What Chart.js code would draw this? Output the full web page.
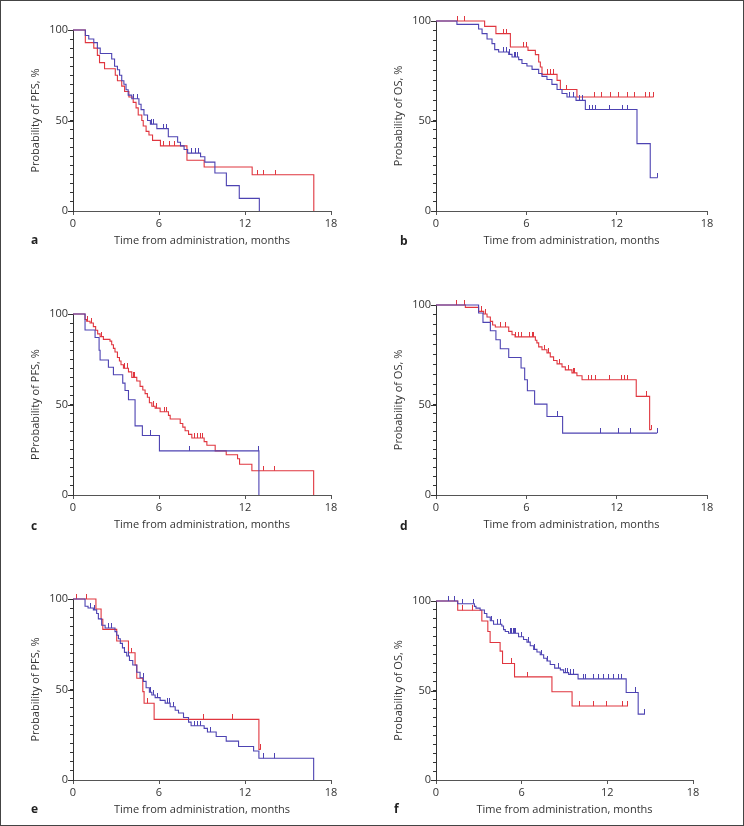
<!DOCTYPE html>
<html>
<head>
<meta charset="utf-8">
<script src="https://cdn.jsdelivr.net/npm/chart.js@4.4.1/dist/chart.umd.min.js"></script>
<style>
  html, body { margin: 0; padding: 0; background: #fff; }
  #fig { position: relative; width: 744px; height: 826px; overflow: hidden; }
  #frame { position: absolute; left: 0; top: 0; width: 744px; height: 826px; box-sizing: border-box; border: 1px solid #444; pointer-events: none; }
</style>
</head>
<body>
<div id="fig"><div id="frame"></div></div>
<script>
// ---------- DATA (time in months, survival in %) ----------
const xTicks = [0, 6, 12, 18];
const yMajor = [0, 50, 100];

// a: PFS
const aRed = [[0,100],[0.86,93],[1.45,90],[1.7,86],[1.85,82],[2.2,78.6],[2.95,75],[3.1,72],[3.4,69],[3.6,66],[3.9,63],[4.2,60],[4.4,57],[4.55,53],[4.8,50],[4.9,47],[5.1,44],[5.3,42],[5.55,39],[6.1,36],[7.95,28],[9.15,24.3],[12.5,20],[16.8,0]];
const aRedCens = [6.3, 6.75, 7.1, 12.85, 13.3, 14.1];
const aBlue = [[0,100],[0.86,97],[1.1,95],[1.45,93],[1.7,90],[1.9,87],[2.7,84],[2.9,80],[3.1,78],[3.25,75],[3.4,72],[3.55,70],[3.7,67],[3.85,64],[4.1,62],[4.6,59],[4.75,56],[4.95,53],[5.2,50],[5.4,48],[5.85,45.5],[6.65,41],[7.3,38],[7.5,36],[7.75,34],[8.0,32],[8.9,30],[9.2,27],[9.9,21],[10.7,14],[11.6,7],[13.0,0]];
const aBlueCens = [4.25, 4.5, 5.45, 5.6, 6.3, 6.5, 8.3, 8.55, 8.75];

// b: OS
const bRed = [[0,100],[3.23,97.3],[3.98,93.7],[4.94,87],[6.11,85.3],[6.6,83.2],[6.82,79.5],[6.93,77],[7.04,73.3],[8.04,70.3],[8.26,65.7],[9.36,62],[14.45,62]];
const bRedCens = [1.46, 1.9, 4.5, 4.7, 5.8, 6.0, 7.4, 7.6, 7.8, 8.7, 10.5, 11.0, 11.6, 12.1, 12.7, 13.2, 13.9, 14.2, 14.45];
const bBlue = [[0,100],[1.39,98.3],[2.83,96],[3.06,93.7],[3.39,91],[3.72,88.7],[3.9,85.7],[4.16,84.5],[4.83,83.3],[5.05,82],[5.49,80.7],[5.71,78.7],[6.04,77.5],[6.38,75.8],[6.82,73.7],[7.04,72.3],[7.37,70.7],[7.7,68.3],[8.04,65.7],[8.37,63.7],[8.7,62],[9.3,60.3],[9.92,55.7],[13.35,37.4],[14.23,18.5],[14.72,18.5]];
const bBlueCens = [4.5, 4.7, 4.9, 5.2, 5.3, 5.4, 8.9, 9.1, 9.5, 9.7, 10.2, 10.4, 10.6, 11.5, 12.4, 12.7, 14.72];

// c: PFS
const cRed = [[0,100],[0.84,97],[0.95,96],[1.19,95],[1.42,93],[1.58,91],[1.72,89],[1.89,87.5],[2.12,86],[2.58,85],[2.7,83],[2.82,81],[2.93,79],[3.1,76],[3.24,74],[3.35,72],[3.52,70],[3.87,68],[4.1,65],[4.45,63],[4.68,60],[4.87,58],[5.03,56],[5.19,54],[5.33,51],[5.5,49],[5.73,48],[6.08,46],[6.66,44],[6.78,42],[7.48,39.5],[7.66,37.5],[7.82,35.5],[8.06,33.5],[8.29,31.5],[9.15,29.5],[9.34,27.5],[9.92,24.4],[10.69,22.2],[11.48,20],[11.62,17],[12.48,13.4],[16.79,0]];
const cRedCens = [1.0, 1.3, 2.0, 3.6, 3.8, 4.2, 4.3, 5.6, 5.65, 5.85, 6.4, 6.55, 8.5, 8.7, 8.9, 9.0, 13.3, 14.05];
const cBlue = [[0,100],[0.84,91.2],[1.54,87],[1.82,80],[1.89,74.6],[2.47,70.6],[2.82,66.4],[3.47,61.8],[3.63,57.7],[3.87,52.6],[4.33,38.2],[4.84,32.9],[6.03,24.4],[12.97,0]];
const cBlueCens = [5.43, 8.13, 12.95];

// d: OS
const dRed = [[0,100],[1.95,98.8],[2.83,96.8],[3.17,95.5],[3.39,94],[3.61,91.8],[3.76,90],[3.94,89],[4.83,86.8],[5.05,85.1],[5.25,84],[6.6,82.3],[6.7,81],[6.82,79],[7.04,77.6],[7.37,76],[7.59,74],[7.81,72.2],[8.04,70.5],[8.37,69],[8.59,67.5],[9.03,66],[9.36,64.5],[9.7,62.5],[13.3,54.2],[14.19,36.2],[14.3,36.2]];
const dRedCens = [1.39, 1.9, 3.0, 3.3, 4.3, 4.6, 5.3, 5.5, 5.7, 6.2, 6.4, 6.5, 7.2, 7.5, 8.2, 8.8, 9.1, 9.2, 10.1, 10.3, 10.6, 11.5, 12.35, 12.55, 12.75, 14.0, 14.3];
const dBlue = [[0,100],[2.83,96],[3.12,91.3],[3.61,87.1],[3.98,82.6],[4.27,78.1],[4.83,73.7],[5.65,68.4],[5.89,62.5],[6.07,57],[6.55,50.3],[7.37,43.5],[8.41,34.3],[14.68,34.3]];
const dBlueCens = [8.1, 10.9, 12.1, 12.9, 14.68];

// e: PFS
const eRed = [[0,100],[1.6,94.5],[1.96,88.8],[2.08,83.2],[3.05,76.8],[3.87,70.3],[4.33,63.5],[4.45,56.2],[4.87,48.8],[4.96,42.4],[5.66,33.5],[12.97,16.9],[13.1,16.9]];
const eRedCens = [0.26, 0.95, 4.1, 5.2, 9.1, 11.13, 13.1];
const eBlue = [[0,100],[0.84,96],[1.05,95],[1.42,94],[1.65,92],[1.77,89],[2.0,85.5],[2.24,84],[2.93,82],[3.05,80],[3.17,78],[3.3,75.5],[3.45,73],[3.59,70.5],[3.75,68.5],[3.94,66],[4.17,63.5],[4.45,59.5],[4.68,56.5],[4.91,54.5],[5.1,51],[5.33,48.5],[5.5,47],[5.73,45.5],[6.08,44],[6.43,42.5],[6.78,40.5],[7.13,38.5],[7.36,37],[7.71,34.5],[8.06,32],[8.24,30],[9.15,28.5],[9.38,26.5],[9.99,24],[10.69,21.5],[11.55,18.5],[12.6,16],[12.97,12],[16.79,0]];
const eBlueCens = [1.2, 1.5, 2.5, 2.7, 3.6, 3.9, 4.9, 5.4, 5.6, 5.9, 6.6, 6.7, 7.0, 8.5, 8.7, 8.9, 9.6, 13.3, 14.05];

// f: OS
const fRed = [[0,100],[1.52,94.8],[3.21,88.8],[3.63,83],[3.79,76.8],[4.49,72],[4.66,65.1],[5.5,57.6],[8.12,49.3],[9.53,41.3],[13.44,41.3]];
const fRedCens = [1.87, 2.57, 5.31, 6.44, 10.04, 11.05, 11.94, 13.09, 13.44];
const fBlue = [[0,100],[1.52,98.5],[2.69,97],[2.8,96],[3.09,95],[3.39,93],[3.56,91],[3.8,89],[4.03,87],[4.61,86],[4.73,84],[4.85,83],[5.08,82],[5.78,80],[6.13,78.5],[6.37,77],[6.6,75],[6.84,73],[7.07,71.5],[7.3,70],[7.54,68],[7.77,66.5],[8.0,64.5],[8.31,62.5],[8.71,61.5],[8.94,60],[9.29,59],[9.95,56.5],[13.32,48.9],[14.16,36.8],[14.63,36.8]];
const fBlueCens = [0.91, 1.29, 1.87, 2.6, 3.9, 4.3, 4.5, 5.2, 5.3, 5.4, 5.5, 5.6, 6.0, 6.5, 6.9, 7.4, 7.8, 8.6, 9.1, 9.2, 9.4, 9.6, 10.3, 10.5, 11.0, 11.4, 11.7, 12.1, 12.4, 12.8, 13.0, 14.0, 14.63];

// ---------- LAYOUT ----------
const RED = "#e0363f";
const BLUE = "#4d43b2";
const TEXT = "#333";

// plot area [left, top, right, bottom] and letter position on the page
const panels = [
  { letter: "a", rect: [73, 30, 331, 211], pos: [31, 244], mid: 0.5, yTitle: "Probability of PFS, %", red: aRed, redC: aRedCens, blue: aBlue, blueC: aBlueCens },
  { letter: "b", rect: [436, 21, 707, 211], pos: [400, 245], mid: 0.474, yTitle: "Probability of OS, %", red: bRed, redC: bRedCens, blue: bBlue, blueC: bBlueCens },
  { letter: "c", rect: [73, 314, 331, 495], pos: [31, 530], mid: 0.5, yTitle: "PProbability of PFS, %", red: cRed, redC: cRedCens, blue: cBlue, blueC: cBlueCens },
  { letter: "d", rect: [436, 305, 707, 495], pos: [400, 530], mid: 0.475, yTitle: "Probability of OS, %", red: dRed, redC: dRedCens, blue: dBlue, blueC: dBlueCens },
  { letter: "e", rect: [73, 599, 331, 780], pos: [31, 813], mid: 0.5, yTitle: "Probability of PFS, %", red: eRed, redC: eRedCens, blue: eBlue, blueC: eBlueCens },
  { letter: "f", rect: [436, 601, 693, 780], pos: [394, 813], mid: 0.5, yTitle: "Probability of OS, %", red: fRed, redC: fRedCens, blue: fBlue, blueC: fBlueCens }
];

Chart.defaults.font.family = "'Open Sans', sans-serif";
Chart.defaults.font.size = 11;
Chart.defaults.color = TEXT;

// y scale whose 50 mark can sit off-centre (panels b and d are drawn that way)
class KmScale extends Chart.LinearScale {
  getPixelForValue(value) {
    if (value === null || value === undefined) return NaN;
    const f = this.options.midFraction || 0.5;
    const d = value <= 50 ? value / 50 * f : f + (value - 50) / 50 * (1 - f);
    return this.getPixelForDecimal(d);
  }
  getValueForPixel(pixel) {
    const f = this.options.midFraction || 0.5;
    const d = this.getDecimalForPixel(pixel);
    return d <= f ? d / f * 50 : 50 + (d - f) / (1 - f) * 50;
  }
}
KmScale.id = "km";
KmScale.defaults = Chart.LinearScale.defaults;
Chart.register(KmScale);

// censor mark: short vertical tick rising from the curve
function tickMark(color) {
  const c = document.createElement("canvas");
  c.width = 1; c.height = 10;
  const g = c.getContext("2d");
  g.fillStyle = color;
  g.fillRect(0, 0, 1, 5);
  return c;
}

function levelAt(curve, t) {
  let s = curve[0][1];
  for (const [ti, si] of curve) { if (ti <= t) s = si; }
  return s;
}

function curveSet(curve, color) {
  return {
    data: curve.map(([x, y]) => ({ x, y })),
    borderColor: color, borderWidth: 1.1, stepped: true,
    pointRadius: 0, fill: false, clip: 4
  };
}

function censorSet(curve, times, color) {
  return {
    data: times.map(t => ({ x: t, y: levelAt(curve, t) })),
    showLine: false, pointStyle: tickMark(color), pointRadius: 2,
    borderColor: color, backgroundColor: color, clip: 8
  };
}

const fig = document.getElementById("fig");

function makeChart(p) {
  const [L, T, R, B] = p.rect;
  const padL = 72, padT = 12, padR = 14, padB = 50;
  const boxLeft = L - padL, boxTop = T - padT;

  const box = document.createElement("div");
  box.style.cssText = "position:absolute;left:" + boxLeft + "px;top:" + boxTop + "px;width:" + (R - L + padL + padR) + "px;height:" + (B - T + padT + padB) + "px";
  const cv = document.createElement("canvas");
  box.appendChild(cv);
  fig.appendChild(box);

  const extras = {
    id: "extras",
    afterDraw(chart) {
      const ctx = chart.ctx;
      const y = chart.scales.y;
      ctx.save();
      ctx.strokeStyle = "#333";
      ctx.lineWidth = 1;
      yMajor.forEach(v => {
        const py = Math.round(y.getPixelForValue(v)) + 0.5;
        ctx.beginPath();
        ctx.moveTo(y.right - 5, py);
        ctx.lineTo(y.right, py);
        ctx.stroke();
      });
      ctx.fillStyle = "#222";
      ctx.font = "bold 12px 'Open Sans', sans-serif";
      ctx.textBaseline = "alphabetic";
      ctx.fillText(p.letter, p.pos[0] - boxLeft, p.pos[1] - boxTop);
      ctx.restore();
    }
  };

  new Chart(cv, {
    type: "line",
    data: {
      datasets: [
        curveSet(p.blue, BLUE),
        censorSet(p.blue, p.blueC, BLUE),
        curveSet(p.red, RED),
        censorSet(p.red, p.redC, RED)
      ]
    },
    options: {
      responsive: true,
      maintainAspectRatio: false,
      animation: false,
      events: [],
      layout: { padding: { top: padT, right: padR, left: 0, bottom: 0 } },
      plugins: { legend: { display: false }, tooltip: { enabled: false } },
      scales: {
        x: {
          type: "linear", min: 0, max: 18,
          afterFit: s => { s.height = padB; },
          afterBuildTicks: s => { s.ticks = xTicks.map(v => ({ value: v })); },
          ticks: { padding: 2, color: TEXT, maxRotation: 0, autoSkip: false },
          grid: { drawOnChartArea: false, tickLength: 4, tickColor: "#555" },
          border: { color: "#555", width: 1 },
          title: { display: true, text: "Time from administration, months", color: TEXT, padding: { top: 0, bottom: 14 } }
        },
        y: {
          type: "km", min: 0, max: 100, midFraction: p.mid,
          afterFit: s => { s.width = padL; },
          afterBuildTicks: s => {
            const t = [];
            for (let v = 0; v <= 100; v += 5) t.push({ value: v });
            s.ticks = t;
          },
          ticks: { padding: 2, color: TEXT, autoSkip: false, callback: v => (yMajor.includes(v) ? String(v) : "") },
          grid: { drawOnChartArea: false, tickLength: 3, tickColor: "#333" },
          border: { color: "#333", width: 1 },
          title: { display: true, text: p.yTitle, color: TEXT, padding: { top: 28, bottom: 0 } }
        }
      }
    },
    plugins: [extras]
  });
}

panels.forEach(makeChart);
</script>
</body>
</html>
